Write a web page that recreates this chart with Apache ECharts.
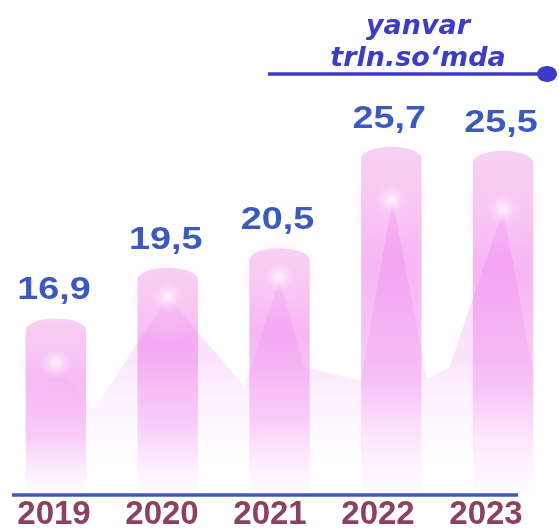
<!DOCTYPE html>
<html>
<head>
<meta charset="utf-8">
<script src="https://cdn.jsdelivr.net/npm/echarts@6/dist/echarts.min.js"></script>
<style>
  html, body { margin: 0; padding: 0; background: #fff; }
  #main { width: 559px; height: 531px; }
</style>
</head>
<body>
<div id="main"></div>
<script>
// 数据
var years = ['2019', '2020', '2021', '2022', '2023'];
var values = [16.9, 19.5, 20.5, 25.7, 25.5];
var valueLabels = ['16,9', '19,5', '20,5', '25,7', '25,5'];
// 背景的山形区域（x 为类目序号）
var areaX = [-0.27, 0, 0.34, 1, 1.69, 2, 2.22, 2.73, 3.01, 3.32, 3.52, 4, 4.27];
var areaY = [11.8, 14.6, 12.2, 18.0, 13.4, 19.0, 14.4, 13.7, 23.0, 13.8, 14.4, 22.5, 14.1];
// 光点
var glowY = [14.6, 18.0, 19.0, 23.0, 22.5];

var yMin = 8, yMax = 30;

var myChart = echarts.init(document.getElementById('main'));

var barFill = new echarts.graphic.LinearGradient(0, 0, 0, 1, [
    { offset: 0, color: 'rgba(248,200,240,0.85)' },
    { offset: 0.35, color: 'rgba(245,172,243,0.88)' },
    { offset: 0.7, color: 'rgba(247,192,247,0.78)' },
    { offset: 1, color: 'rgba(255,245,255,0.4)' }
]);

function renderBar(params, api) {
    var idx = api.value(0);
    var top = api.coord([idx, api.value(1)]);
    var base = api.coord([idx, yMin]);
    var bw = api.size([1, 0])[0] * 0.54;
    var rx = bw / 2, ry = 12;
    var x0 = top[0] - rx, x1 = top[0] + rx;
    var d = 'M' + x0 + ' ' + (top[1] + ry) +
        ' A' + rx + ' ' + ry + ' 0 0 1 ' + x1 + ' ' + (top[1] + ry) +
        ' L' + x1 + ' ' + base[1] + ' L' + x0 + ' ' + base[1] + ' Z';
    return {
        type: 'group',
        children: [{
            type: 'path',
            shape: { pathData: d },
            style: { fill: barFill }
        }, {
            type: 'text',
            x: top[0] - 2,
            y: top[1] - 28,
            scaleX: 1.18,
            style: {
                text: valueLabels[params.dataIndex],
                fill: '#3a5ac0',
                font: 'bold 32px "Liberation Sans", Arial',
                align: 'center',
                verticalAlign: 'middle'
            }
        }]
    };
}

var option = {
    backgroundColor: '#fff',
    animation: false,
    grid: [
        { left: -4, right: -5, top: 63, bottom: 39 },
        { left: -9, right: 19, top: 63, bottom: 39 }
    ],
    xAxis: [{
        type: 'category', gridIndex: 0, data: years, show: false
    }, {
        type: 'value', gridIndex: 0, min: -0.5, max: 4.5, show: false
    }, {
        type: 'category', gridIndex: 1, data: years,
        axisLine: { show: false }, axisTick: { show: false },
        axisLabel: {
            margin: 7,
            color: '#8b4064',
            fontSize: 33,
            fontWeight: 'bold',
            fontFamily: '"Liberation Sans", Arial'
        }
    }],
    yAxis: [
        { type: 'value', gridIndex: 0, min: yMin, max: yMax, show: false },
        { type: 'value', gridIndex: 1, min: 0, max: 1, show: false }
    ],
    graphic: [{
        type: 'line',
        shape: { x1: 12, y1: 495, x2: 518, y2: 495 },
        style: { stroke: '#3a5ac0', lineWidth: 3.5 }
    }, {
        type: 'line',
        shape: { x1: 268, y1: 74, x2: 540, y2: 74 },
        style: { stroke: '#3b3bc8', lineWidth: 3.5 }
    }, {
        type: 'ellipse',
        shape: { cx: 547, cy: 74, rx: 10, ry: 8 },
        style: { fill: '#3b3bc8' }
    }, {
        type: 'text',
        x: 418, y: 27,
        style: {
            text: 'yanvar',
            fill: '#3c3cc4',
            font: 'italic bold 27px "DejaVu Sans"',
            align: 'center', verticalAlign: 'middle'
        }
    }, {
        type: 'text',
        x: 418, y: 59,
        style: {
            text: 'trln.so‘mda',
            fill: '#3c3cc4',
            font: 'italic bold 27px "DejaVu Sans"',
            align: 'center', verticalAlign: 'middle'
        }
    }],
    series: [{
        type: 'custom',
        xAxisIndex: 0, yAxisIndex: 0,
        renderItem: renderBar,
        clip: false,
        z: 2,
        data: values.map(function (v, i) { return [i, v]; })
    }, {
        type: 'line',
        xAxisIndex: 1, yAxisIndex: 0,
        symbol: 'none',
        lineStyle: { width: 0, opacity: 0 },
        areaStyle: {
            color: new echarts.graphic.LinearGradient(0, 0, 0, 1, [
                { offset: 0, color: 'rgba(236,110,236,0.45)' },
                { offset: 0.55, color: 'rgba(238,130,238,0.3)' },
                { offset: 1, color: 'rgba(255,255,255,0)' }
            ])
        },
        z: 3,
        data: areaX.map(function (x, i) { return [x, areaY[i]]; })
    }, {
        type: 'scatter',
        xAxisIndex: 0, yAxisIndex: 0,
        symbolSize: 90,
        itemStyle: {
            color: new echarts.graphic.RadialGradient(0.5, 0.5, 0.5, [
                { offset: 0, color: 'rgba(255,255,255,1)' },
                { offset: 0.1, color: 'rgba(255,240,253,0.9)' },
                { offset: 0.35, color: 'rgba(250,205,245,0.4)' },
                { offset: 1, color: 'rgba(250,215,246,0)' }
            ])
        },
        silent: true,
        z: 4,
        data: glowY.map(function (v, i) { return [i, v]; })
    }]
};

myChart.setOption(option);
</script>
</body>
</html>
